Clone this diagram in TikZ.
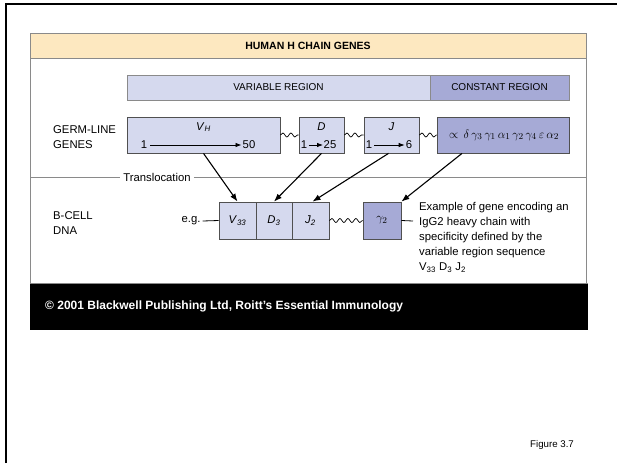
\documentclass[tikz,border=0pt]{standalone}
\usepackage{fontspec}
\setmainfont{Liberation Sans}
\usetikzlibrary{arrows.meta,decorations.pathmorphing}
\definecolor{titlefill}{HTML}{FDE8C0}
\definecolor{varfill}{HTML}{D5D9EE}
\definecolor{constfill}{HTML}{A6AAD6}
\definecolor{panelgray}{HTML}{8A8A8A}
\definecolor{boxgray}{HTML}{505050}
\tikzset{
  txt/.style={inner sep=0pt, font=\fontsize{11.3}{15}\selectfont},
  capslabel/.style={inner sep=0pt, font=\fontsize{10}{12}\selectfont},
  genebox/.style={draw=boxgray, line width=0.8pt, fill=varfill, inner sep=0pt, minimum height=36pt},
  cgenebox/.style={genebox, fill=constfill},
  bandbox/.style={draw=panelgray, line width=0.8pt, inner sep=0pt, minimum height=25pt},
  arr/.style={line width=1.1pt, -{Latex[length=8pt,width=6pt]}},
  inarr/.style={line width=0.8pt, -{Latex[length=6pt,width=4.5pt]}},
  wave/.style={line width=0.7pt, decorate, decoration={snake, amplitude=2pt, segment length=8pt}},
  thin/.style={line width=0.8pt}
}
\begin{document}
\begin{tikzpicture}[x=1pt,y=-1pt]
\useasboundingbox (0,0) rectangle (617,463);
% outer frame
\draw[line width=2.5pt] (6,463) -- (6,4) -- (617,4);
% panel
\fill[titlefill] (30.5,33.5) rectangle (586,58.5);
\draw[draw=panelgray, line width=0.9pt] (30.5,283) -- (30.5,33.5) -- (586,33.5) -- (586,283);
\draw[draw=panelgray, line width=0.9pt] (30.5,58.5) -- (586,58.5);
\node[inner sep=0pt, font=\fontsize{10.5}{12}\selectfont\bfseries] (title) at (308,46) {HUMAN H CHAIN GENES};
% footer
\fill[black] (30,283) rectangle (588,330);
\draw[draw=panelgray, line width=1pt] (30,283) -- (588,283);
\node[inner sep=0pt, anchor=west, text=white, font=\fontsize{12}{14}\selectfont\bfseries] (copy) at (45,306) {© 2001 Blackwell Publishing Ltd, Roitt's Essential Immunology};
\node[inner sep=0pt, anchor=west, font=\fontsize{9.7}{11}\selectfont] (fig) at (530,445) {Figure 3.7};
% region bars
\node[bandbox, fill=varfill, minimum width=303pt] (var) at (278.5,87.5) {};
\node[bandbox, fill=constfill, minimum width=139pt] (con) at (499.5,87.5) {};
\node[capslabel] (varlab) at (var.center) {VARIABLE REGION};
\node[capslabel] (conlab) at (con.center) {CONSTANT REGION};
% left labels
\node[txt, anchor=west, align=left] (germ) at (53,137.5) {GERM-LINE\\GENES};
\node[txt, anchor=west, align=left] (bcell) at (53,223) {B-CELL\\DNA};
% germ-line boxes
\node[genebox, minimum width=153pt] (VH) at (203.5,135) {};
\node[genebox, minimum width=45pt] (D) at (321.5,135) {};
\node[genebox, minimum width=55pt] (J) at (391.5,135) {};
\node[cgenebox, minimum width=132pt] (C) at (503,135) {};
\node[txt] (VHlab) at (203.5,127) {\textit{V}\textsubscript{\textit{H}}};
\node[txt] (vone) at (144,145) {1};
\node[txt] (vfifty) at (249,145) {50};
\draw[inarr] ([xshift=3pt]vone.east) -- ([xshift=-1pt]vfifty.west);
\node[txt] (Dlab) at (321.5,127) {\textit{D}};
\node[txt] (done) at (304,145) {1};
\node[txt] (dtwentyfive) at (330,145) {25};
\draw[inarr] ([xshift=1.5pt]done.east) -- ([xshift=-0.5pt]dtwentyfive.west);
\node[txt] (Jlab) at (391.5,127) {\textit{J}};
\node[txt] (jone) at (369,145) {1};
\node[txt] (jsix) at (409,145) {6};
\draw[inarr] ([xshift=2pt]jone.east) -- ([xshift=-1pt]jsix.west);
\node[inner sep=0pt, font=\fontsize{12.5}{14}\selectfont] (Clab) at ([xshift=1pt]C.center) {$\propto\,\delta\,\gamma_3\,\gamma_1\,\alpha_1\,\gamma_2\,\gamma_4\,\varepsilon\,\alpha_2$};
\draw[wave] (VH.east) -- (D.west);
\draw[wave] (D.east) -- (J.west);
\draw[wave] (J.east) -- (C.west);
% translocation divider
\node[txt, inner sep=3pt] (trans) at (157,177) {Translocation};
\coordinate (divL) at (30.5,177);
\coordinate (divR) at (586,177);
\draw[draw=panelgray, line width=0.8pt] (divL) -- (trans.west);
\draw[draw=panelgray, line width=0.8pt] (trans.east) -- (divR);
% B-cell DNA
\node[genebox, minimum width=37pt, minimum height=37pt] (V33) at (237.5,220.5) {};
\node[genebox, minimum width=36pt, minimum height=37pt] (D3) at (274,220.5) {};
\node[genebox, minimum width=37pt, minimum height=37pt] (J2) at (310.5,220.5) {};
\node[cgenebox, minimum width=38pt, minimum height=37pt] (G2) at (382,220.5) {};
\node[txt] (V33lab) at (V33.center) {\textit{V}\textsubscript{\textit{33}}};
\node[txt] (D3lab) at (D3.center) {\textit{D}\textsubscript{\textit{3}}};
\node[txt] (J2lab) at (J2.center) {\textit{J}\textsubscript{\textit{2}}};
\node[inner sep=0pt, font=\fontsize{12.5}{14}\selectfont] (G2lab) at (G2.center) {$\gamma_2$};
\node[txt] (eg) at (191,221) {e.g.};
\draw[thin] ([xshift=2pt]eg.east) -- (V33.west);
\draw[wave] (J2.east) -- (G2.west);
% translocation arrows
\draw[arr] (VH.south) -- (V33.north);
\draw[arr] (D.south) -- (D3.north);
\draw[arr] ([xshift=-3pt]J.south) -- ([xshift=2pt]J2.north);
\draw[arr] ([xshift=-41pt]C.south) -- (G2.north east);
% description
\coordinate (dashend) at (413,221);
\draw[thin] (G2.east) -- (dashend);
\node[txt, anchor=north west, align=left] (desc) at (419,202.5) {Example of gene encoding an\\IgG2 heavy chain with\\specificity defined by the\\variable region sequence\\V\textsubscript{33} D\textsubscript{3} J\textsubscript{2}};
\end{tikzpicture}
\end{document}
